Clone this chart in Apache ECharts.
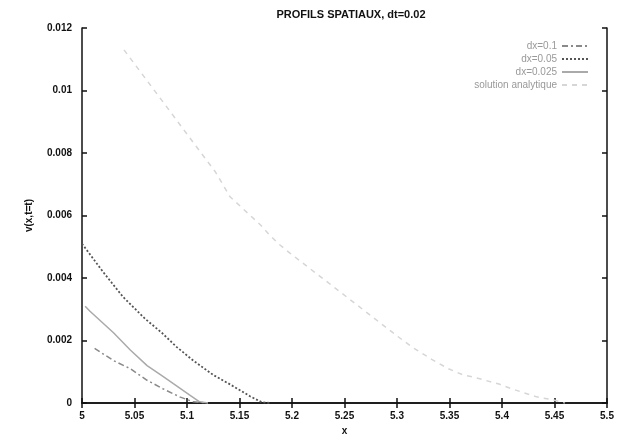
<!DOCTYPE html>
<html>
<head>
<meta charset="utf-8">
<script src="https://cdn.jsdelivr.net/npm/echarts@6/dist/echarts.min.js"></script>
<style>html,body{margin:0;padding:0;background:#fff;}#c{width:632px;height:441px;}</style>
</head>
<body>
<div id="c"></div>
<script>
const titleText = 'PROFILS SPATIAUX, dt=0.02';
const seriesNames = ['dx=0.1', 'dx=0.05', 'dx=0.025', 'solution analytique'];
const xTicks = [5, 5.05, 5.1, 5.15, 5.2, 5.25, 5.3, 5.35, 5.4, 5.45, 5.5];
const yTicks = [0, 0.002, 0.004, 0.006, 0.008, 0.01, 0.012];

const dx01 = [[5.012, 0.00175], [5.03, 0.00136], [5.046, 0.0011], [5.062, 0.00073], [5.077, 0.00046], [5.093, 0.0002], [5.106, 0.00004], [5.12, 0]];
const dx005 = [[5.0, 0.0051], [5.02, 0.0042], [5.039, 0.0034], [5.06, 0.0027], [5.076, 0.00225], [5.09, 0.0018], [5.106, 0.00136], [5.125, 0.0009], [5.141, 0.0006], [5.16, 0.00022], [5.171, 0.00003], [5.18, 0]];
const dx0025 = [[5.003, 0.0031], [5.0076, 0.00294], [5.03, 0.00225], [5.046, 0.0017], [5.062, 0.0012], [5.075, 0.0009], [5.087, 0.00062], [5.103, 0.00025], [5.112, 0.00004], [5.12, 0]];
const analytique = [[5.04, 0.0113], [5.118, 0.0078], [5.127, 0.0074], [5.141, 0.0066], [5.17, 0.0057], [5.178, 0.0054], [5.187, 0.0051], [5.198, 0.0048], [5.3, 0.00215], [5.314, 0.0018], [5.333, 0.0014], [5.349, 0.0011], [5.363, 0.0009], [5.373, 0.00083], [5.398, 0.0006], [5.409, 0.00046], [5.42, 0.00034], [5.433, 0.0002], [5.449, 0.0001], [5.46, 0]];

const chart = echarts.init(document.getElementById('c'), null, {renderer: 'canvas'});
const font = 'Liberation Sans, Arial, sans-serif';
const fmtX = v => { const r = Math.round(v * 100) / 100; return xTicks.some(t => Math.abs(t - r) < 1e-9) ? String(r) : ''; };
const fmtY = v => { const r = Math.round(v * 1000) / 1000; return yTicks.some(t => Math.abs(t - r) < 1e-9) ? String(r) : ''; };
const mainAxisLine = {show: true, lineStyle: {color: '#111', width: 1.5}};
const tick = {inside: true, length: 5, lineStyle: {color: '#111', width: 1.5}};
chart.setOption({
  animation: false,
  backgroundColor: '#fff',
  title: {text: titleText, left: 346, top: 4, textAlign: 'center',
    textStyle: {fontFamily: font, fontSize: 11, fontWeight: 'bold', color: '#111'}},
  grid: {left: 82, right: 25, top: 28, bottom: 33},
  legend: {orient: 'vertical', right: 38, top: 36, align: 'right', itemGap: 3, itemWidth: 26, itemHeight: 8,
    data: seriesNames, itemStyle: {opacity: 0},
    textStyle: {fontFamily: font, fontSize: 10, color: '#999'}},
  xAxis: [{type: 'value', min: 5, max: 5.5, interval: 0.05, name: 'x', nameLocation: 'middle', nameGap: 20,
    nameTextStyle: {fontFamily: font, fontSize: 10, fontWeight: 'bold', color: '#111'},
    axisLine: mainAxisLine, axisTick: tick,
    axisLabel: {formatter: fmtX, fontFamily: font, fontSize: 10, fontWeight: 'bold', color: '#111', margin: 8},
    splitLine: {show: false}},
    {type: 'value', position: 'top', min: 5, max: 5.5, interval: 0.05,
    axisLine: mainAxisLine, axisTick: tick,
    axisLabel: {show: false}, splitLine: {show: false}}],
  yAxis: [{type: 'value', min: 0, max: 0.012, interval: 0.002, name: 'v(x,t=t)', nameLocation: 'middle', nameGap: 48,
    nameTextStyle: {fontFamily: font, fontSize: 10, fontWeight: 'bold', color: '#111'},
    axisLine: mainAxisLine, axisTick: tick,
    axisLabel: {formatter: fmtY, fontFamily: font, fontSize: 10, fontWeight: 'bold', color: '#111', margin: 10},
    splitLine: {show: false}},
    {type: 'value', position: 'right', min: 0, max: 0.012, interval: 0.002,
    axisLine: mainAxisLine, axisTick: tick,
    axisLabel: {show: false}, splitLine: {show: false}}],
  series: [
    {name: seriesNames[0], type: 'line', symbol: 'none', data: dx01,
      lineStyle: {color: '#8a8a8a', width: 1.5, type: [6, 3, 2, 3]}, itemStyle: {color: '#8a8a8a'}},
    {name: seriesNames[1], type: 'line', symbol: 'none', data: dx005,
      lineStyle: {color: '#555', width: 1.8, type: [2, 2]}, itemStyle: {color: '#555'}},
    {name: seriesNames[2], type: 'line', symbol: 'none', data: dx0025,
      lineStyle: {color: '#aaa', width: 1.5}, itemStyle: {color: '#aaa'}},
    {name: seriesNames[3], type: 'line', symbol: 'none', data: analytique,
      lineStyle: {color: '#d6d6d6', width: 1.5, type: [5, 5]}, itemStyle: {color: '#d6d6d6'}}
  ]
});
</script>
</body>
</html>
